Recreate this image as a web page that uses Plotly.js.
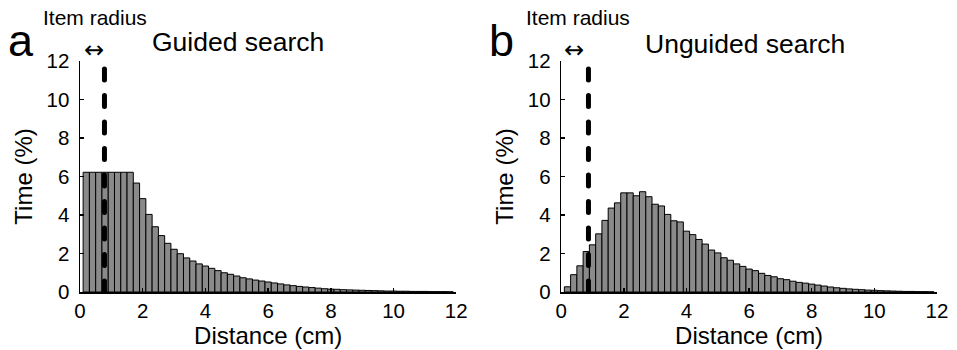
<!DOCTYPE html>
<html>
<head>
<meta charset="utf-8">
<script src="https://cdn.plot.ly/plotly-3.0.1.min.js"></script>
<style>
  html, body { margin: 0; padding: 0; background: #fff; }
  #chart { width: 957px; height: 350px; }
  /* rounded dash ends for the item-radius marker */
  #chart .scatterlayer .js-line { stroke-linecap: round; }
</style>
</head>
<body>
<div id="chart"></div>
<script>
// Bin centres (cm), 0.2 cm wide bins
const binCenters = [
  0.2, 0.4, 0.6, 0.8, 1.0, 1.2, 1.4, 1.6, 1.8, 2.0,
  2.2, 2.4, 2.6, 2.8, 3.0, 3.2, 3.4, 3.6, 3.8, 4.0,
  4.2, 4.4, 4.6, 4.8, 5.0, 5.2, 5.4, 5.6, 5.8, 6.0,
  6.2, 6.4, 6.6, 6.8, 7.0, 7.2, 7.4, 7.6, 7.8, 8.0,
  8.2, 8.4, 8.6, 8.8, 9.0, 9.2, 9.4, 9.6, 9.8, 10.0,
  10.2, 10.4, 10.6, 10.8, 11.0, 11.2, 11.4, 11.6, 11.8
];

// Time spent at each distance (%), guided search
const guidedTime = [
  6.22, 6.22, 6.22, 6.22, 6.22, 6.22, 6.22, 6.22, 5.66, 4.85,
  4.03, 3.39, 2.93, 2.53, 2.22, 1.99, 1.77, 1.61, 1.46, 1.35,
  1.23, 1.11, 1.00, 0.92, 0.83, 0.74, 0.68, 0.62, 0.57, 0.52,
  0.47, 0.42, 0.37, 0.33, 0.29, 0.26, 0.23, 0.20, 0.17, 0.15,
  0.14, 0.12, 0.11, 0.10, 0.09, 0.08, 0.07, 0.06, 0.05, 0.05,
  0.04, 0.04, 0.03, 0.03, 0.03, 0.02, 0.02, 0.02, 0.01
];

// Time spent at each distance (%), unguided search
const unguidedTime = [
  0.27, 0.90, 1.36, 2.10, 2.45, 3.02, 3.72, 4.36, 4.63, 5.15,
  5.15, 5.00, 5.21, 4.95, 4.56, 4.47, 4.03, 3.70, 3.64, 3.16,
  2.98, 2.73, 2.49, 2.18, 2.03, 1.78, 1.65, 1.46, 1.33, 1.19,
  1.11, 0.97, 0.86, 0.79, 0.69, 0.64, 0.56, 0.50, 0.46, 0.41,
  0.36, 0.31, 0.26, 0.22, 0.19, 0.16, 0.14, 0.12, 0.10, 0.09,
  0.07, 0.06, 0.05, 0.04, 0.03, 0.03, 0.02, 0.02, 0.01
];

// Item radius marker (cm) and the height of its dashed line (%)
const itemRadius = [0.78, 0.87];
const radiusLineY = [0, 11.8];

const panelTitles = ['Guided search', 'Unguided search'];
const panelLetters = ['a', 'b'];
const tickVals = [0, 2, 4, 6, 8, 10, 12];

const FONT = 'Liberation Sans, Arial, Helvetica, sans-serif';

function barTrace(y, xa, ya) {
  return {
    type: 'bar', x: binCenters, y: y, width: 0.2,
    xaxis: xa, yaxis: ya,
    marker: { color: '#8a8a8a', line: { color: '#000', width: 1 } },
    hoverinfo: 'x+y', showlegend: false
  };
}

function radiusTrace(r, xa, ya) {
  return {
    type: 'scatter', mode: 'lines',
    x: [r, r], y: radiusLineY,
    xaxis: xa, yaxis: ya,
    line: { color: '#000', width: 5, dash: '11px,15.5px' },
    hoverinfo: 'skip', showlegend: false
  };
}

const data = [
  barTrace(guidedTime, 'x', 'y'),
  radiusTrace(itemRadius[0], 'x', 'y'),
  barTrace(unguidedTime, 'x2', 'y2'),
  radiusTrace(itemRadius[1], 'x2', 'y2')
];

function xAxis(domain, anchor) {
  return {
    domain: domain, anchor: anchor, range: [0, 12],
    tickvals: tickVals, ticks: 'inside', ticklen: 4, tickwidth: 1.5, tickcolor: '#000',
    showline: true, linecolor: '#000', linewidth: 1.5,
    showgrid: false, zeroline: false,
    tickfont: { family: FONT, size: 20.5, color: '#000' },
    title: { text: 'Distance (cm)', font: { family: FONT, size: 24, color: '#000' }, standoff: 4 }
  };
}

function yAxis(anchor) {
  return {
    domain: [0, 1], anchor: anchor, range: [0, 12],
    tickvals: tickVals, ticks: 'inside', ticklen: 4, tickwidth: 1.5, tickcolor: '#000',
    showline: true, linecolor: '#000', linewidth: 1.5,
    showgrid: false, zeroline: false,
    tickfont: { family: FONT, size: 20.5, color: '#000' },
    ticklabelstandoff: 5,
    title: { text: 'Time (%)', font: { family: FONT, size: 24, color: '#000' }, standoff: 7 }
  };
}

const textAnn = (x, y, text, size, xanchor, family) => ({
  xref: 'paper', yref: 'paper', x: x, y: y, text: text,
  showarrow: false, xanchor: xanchor || 'left', yanchor: 'middle',
  font: { family: family || FONT, size: size, color: '#000' }
});

// Paper coordinates are computed from the plot area (margins l=79.5, r=20, t=61, b=58)
const W = 957 - 79.5 - 20, H = 350 - 61 - 58;
const px = v => (v - 79.5) / W;
const py = v => (350 - 58 - v) / H;

const annotations = [
  textAnn(px(40), py(18), 'Item radius', 21),
  textAnn(px(524), py(18), 'Item radius', 21),
  textAnn(px(5), py(40), panelLetters[0], 45),
  textAnn(px(487), py(40), panelLetters[1], 45),
  textAnn(px(150), py(42), panelTitles[0], 26.5),
  textAnn(px(643), py(44), panelTitles[1], 26.5),
  textAnn(px(93.5), py(50), '↔', 24, 'center', 'DejaVu Sans'),
  textAnn(px(573.5), py(50), '↔', 24, 'center', 'DejaVu Sans')
];

const layout = {
  width: 957, height: 350,
  margin: { l: 79.5, r: 20, t: 61, b: 58 },
  paper_bgcolor: '#fff', plot_bgcolor: '#fff',
  bargap: 0,
  showlegend: false,
  xaxis: xAxis([0, px(456)], 'y'),
  yaxis: yAxis('x'),
  xaxis2: xAxis([px(561), 1], 'y2'),
  yaxis2: yAxis('x2'),
  annotations: annotations
};

Plotly.newPlot('chart', data, layout, { staticPlot: true, displayModeBar: false });
</script>
</body>
</html>
